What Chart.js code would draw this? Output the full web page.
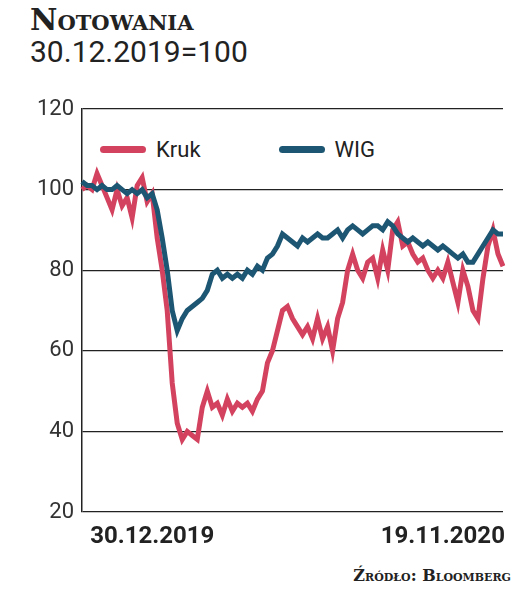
<!DOCTYPE html>
<html><head><meta charset="utf-8">
<script src="https://cdn.jsdelivr.net/npm/chart.js@4"></script>
<style>
body{margin:0;background:#fff;width:529px;height:593px;overflow:hidden;position:relative;font-family:"Liberation Sans Narrow","Roboto",sans-serif;color:#222}
#t{position:absolute;left:30px;top:2px;font:bold 30px "DejaVu Serif",serif;font-variant:small-caps;letter-spacing:0px}
#s{position:absolute;left:30px;top:34px;font-size:30px}
#lg{position:absolute;left:100px;top:135px;font-size:22px}
#lg span{display:inline-block;vertical-align:middle}
.sw{width:46px;height:7px;border-radius:4px;margin-right:10px}
#src{position:absolute;right:18px;top:566px;font:bold 16px "DejaVu Serif",serif;font-variant:small-caps}
canvas{position:absolute;left:0;top:0}
</style></head><body>
<div id="t">Notowania</div>
<div id="s">30.12.2019=100</div>
<div id="lg"><span class="sw" style="background:#d3435f"></span><span style="margin-right:78px">Kruk</span><span class="sw" style="background:#1d5672"></span><span>WIG</span></div>
<div id="src">Źródło: Bloomberg</div>
<div style="position:absolute;left:0;top:0;width:529px;height:593px"><canvas id="c"></canvas></div>
<script>
const seriesNames=["Kruk","WIG"];
const kruk=[100,101,100,104,101,98,95,100,96,98,93,101,103,97,99,88,80,70,52,42,38,40,39,38,46,50,46,47,44,48,45,47,46,47,45,48,50,57,60,65,70,71,68,66,64,66,63,68,63,66,60,68,72,80,84,80,78,82,83,78,85,80,90,92,86,87,84,82,83,80,78,80,78,82,77,72,80,76,70,68,78,86,90,84,81];
const wig=[102,101,101,100,101,100,100,101,100,99,100,99,100,98,99,95,88,80,70,65,68,70,71,72,73,75,79,80,78,79,78,79,78,80,79,81,80,83,84,86,89,88,87,86,88,87,88,89,88,88,89,90,88,90,91,90,89,90,91,91,90,92,91,89,88,87,88,87,86,87,86,85,86,85,84,83,84,82,82,84,86,88,90,89,89];
const tickLabels={14:"30.12.2019",72:"19.11.2020"};
const yTicks=[20,40,60,80,100,120];
const labels=kruk.map((_,i)=>tickLabels[i]||"");
new Chart(document.getElementById('c'),{type:'line',
data:{labels,datasets:[
{label:seriesNames[1],data:wig,borderColor:'#1d5672',borderWidth:5,pointRadius:0,tension:0},
{label:seriesNames[0],data:kruk,borderColor:'#d3435f',borderWidth:5,pointRadius:0,tension:0}]},
options:{responsive:true,maintainAspectRatio:false,animation:false,
layout:{padding:{top:109,right:26,bottom:41,left:0}},
plugins:{legend:{display:false},tooltip:{enabled:false}},
scales:{
x:{grid:{display:false},border:{display:false},afterFit:s=>{s.height=40},
 ticks:{autoSkip:false,maxRotation:0,color:'#222',font:{family:'"Liberation Sans Narrow",Roboto,sans-serif',size:24,weight:'bold'},callback:(v,i)=>labels[i]}},
y:{min:20,max:120,afterFit:s=>{s.width=82},afterBuildTicks:s=>{s.ticks=yTicks.map(v=>({value:v}))},
 grid:{color:'#222',lineWidth:1.2,drawTicks:false},border:{display:true,color:'#222',width:1.5},
 ticks:{padding:8,color:'#333',font:{family:'"Liberation Sans Narrow",Roboto,sans-serif',size:22}}}}}});
</script></body></html>
